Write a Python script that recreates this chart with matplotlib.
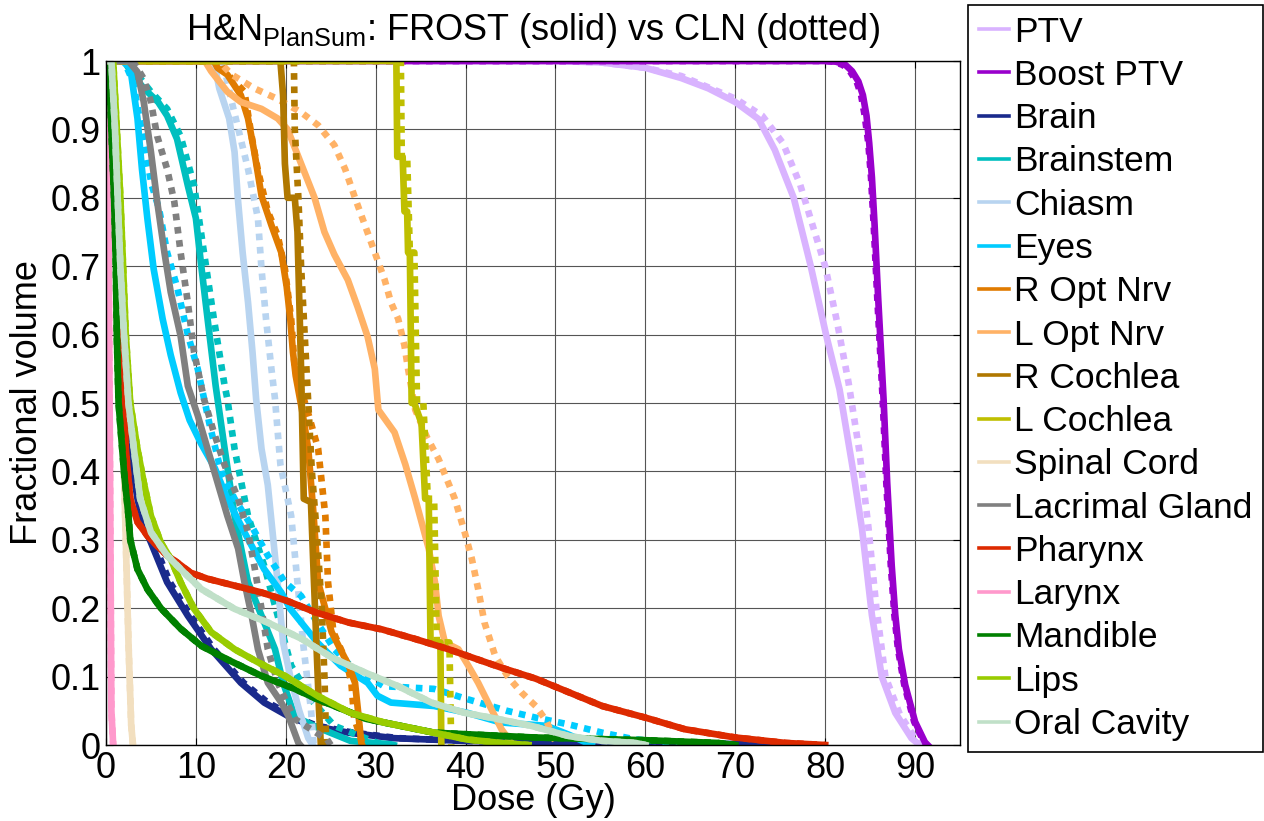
import matplotlib
matplotlib.use('Agg')
import matplotlib.pyplot as plt
from matplotlib.lines import Line2D

plt.rcParams['font.family'] = ['Liberation Sans', 'DejaVu Sans']
plt.rcParams['mathtext.fontset'] = 'custom'
plt.rcParams['mathtext.rm'] = 'Liberation Sans'
plt.rcParams['mathtext.it'] = 'Liberation Sans'

# structure names and colours (legend order)
names = ['PTV', 'Boost PTV', 'Brain', 'Brainstem', 'Chiasm', 'Eyes', 'R Opt Nrv',
         'L Opt Nrv', 'R Cochlea', 'L Cochlea', 'Spinal Cord', 'Lacrimal Gland',
         'Pharynx', 'Larynx', 'Mandible', 'Lips', 'Oral Cavity']
colors = ['#D9B3FF', '#9900CC', '#1A2A8C', '#00BFBF', '#B8D4F0', '#00CCFF', '#E07B00',
          '#FFB266', '#B07800', '#BFBF00', '#F2DFBF', '#808080',
          '#DD2A00', '#FF99CC', '#008000', '#99CC00', '#C0E0C8']

# DVH points (dose Gy, fractional volume); frost = solid, cln = dotted
ptv_frost = [(0, 1), (50, 1), (55, 0.998), (60, 0.99), (64, 0.975), (67, 0.96), (70, 0.94),
             (72.6, 0.915), (74.4, 0.87), (76.5, 0.8), (78.4, 0.7), (80.1, 0.6), (81.6, 0.52),
             (83, 0.41), (84.1, 0.316), (85.2, 0.19), (86.3, 0.1), (87.8, 0.047), (89.6, 0.01), (90.5, 0)]
ptv_cln = [(0, 1), (50, 1), (55, 0.998), (60, 0.99), (64, 0.978), (70, 0.945), (73, 0.92),
           (75.3, 0.88), (77.2, 0.82), (78.6, 0.76), (80, 0.7), (81.3, 0.62), (82.6, 0.53),
           (83.8, 0.43), (84.8, 0.32), (85.7, 0.2), (86.7, 0.1), (88.3, 0.045), (90, 0.01), (91, 0)]
boost_frost = [(0, 1), (80, 1), (81.2, 0.999), (82.2, 0.995), (83, 0.985), (83.7, 0.97),
               (84.2, 0.95), (84.6, 0.92), (84.9, 0.88), (85.2, 0.83), (85.5, 0.76),
               (85.9, 0.653), (86.5, 0.505), (86.9, 0.384), (87.4, 0.263), (87.8, 0.19),
               (88.2, 0.14), (88.9, 0.088), (90, 0.034), (91.1, 0.004), (91.4, 0)]
boost_cln = [(0, 1), (80, 1), (81, 0.999), (82, 0.994), (82.8, 0.984), (83.5, 0.97),
             (84, 0.95), (84.4, 0.92), (84.8, 0.88), (85.1, 0.83), (85.4, 0.76),
             (85.8, 0.653), (86.4, 0.505), (86.8, 0.384), (87.3, 0.263), (87.7, 0.19),
             (88.1, 0.14), (88.8, 0.088), (89.9, 0.034), (91, 0.004), (91.3, 0)]
brain_frost = [(0, 1), (0.5, 1), (0.9, 0.9), (1.2, 0.8), (1.5, 0.7), (1.8, 0.6), (2.3, 0.5),
               (2.8, 0.42), (3.5, 0.36), (4.2, 0.32), (5, 0.296), (6.8, 0.238), (9.1, 0.189),
               (11.7, 0.14), (15, 0.091), (17.6, 0.062), (20.3, 0.042), (23, 0.028), (27, 0.018),
               (32, 0.01), (40, 0.006), (55, 0.003), (75, 0.001), (78, 0)]
brain_cln = [(0, 1), (0.5, 1), (0.9, 0.9), (1.2, 0.8), (1.5, 0.7), (1.9, 0.6), (2.4, 0.5),
             (3, 0.42), (3.7, 0.36), (4.5, 0.32), (5.3, 0.296), (7.1, 0.238), (9.4, 0.189),
             (12, 0.14), (15.3, 0.091), (18, 0.062), (20.8, 0.042), (23.5, 0.028), (27.5, 0.018),
             (32.5, 0.01), (40, 0.006), (55, 0.003), (75, 0.001), (78, 0)]
brainstem_frost = [(0, 1), (2, 1), (3, 0.98), (4.2, 0.96), (5.8, 0.94), (6.8, 0.92), (7.9, 0.886),
                   (9.1, 0.818), (10, 0.77), (10.6, 0.7), (11.3, 0.623), (12.2, 0.525),
                   (13.2, 0.433), (14.3, 0.335), (15.8, 0.238), (17.3, 0.189), (18.8, 0.14),
                   (19.7, 0.091), (21, 0.042), (23.1, 0.028), (27.2, 0.006), (31.7, 0.001), (32, 0)]
brainstem_cln = [(0, 1), (2.5, 1), (3.5, 0.98), (5, 0.955), (6.8, 0.93), (8.3, 0.89), (9.8, 0.818),
                 (10.9, 0.72), (12, 0.623), (13.2, 0.525), (13.5, 0.506), (14.3, 0.433),
                 (15.8, 0.335), (17.6, 0.262), (19.1, 0.189), (20.6, 0.116), (23.1, 0.062),
                 (25.4, 0.028), (30.2, 0.003), (31, 0)]
chiasm_frost = [(0, 1), (12, 1), (12.6, 0.96), (13.7, 0.916), (14.3, 0.867), (14.7, 0.794),
                (15.2, 0.72), (15.8, 0.647), (16.3, 0.574), (16.7, 0.506), (17.3, 0.433),
                (18, 0.38), (19, 0.25), (19.7, 0.15), (20.5, 0.1), (21.5, 0.05), (22.5, 0.01), (23, 0)]
chiasm_cln = [(0, 1), (13, 1), (13.9, 0.945), (15.8, 0.842), (16.9, 0.77), (17.3, 0.696),
              (17.8, 0.623), (18.4, 0.55), (18.8, 0.506), (19.4, 0.41), (20.6, 0.335),
              (21.3, 0.238), (22, 0.14), (22.8, 0.052), (23.1, 0)]
eyes_frost = [(0, 1), (1.8, 1), (2.7, 0.99), (3.5, 0.916), (4, 0.842), (4.6, 0.77), (5.3, 0.696),
              (6.3, 0.623), (7.2, 0.57), (8.3, 0.515), (9.3, 0.475), (10.6, 0.44), (12.1, 0.405),
              (13.5, 0.36), (15.4, 0.311), (17.6, 0.257), (19.5, 0.223), (20.5, 0.199),
              (23.5, 0.15), (26.1, 0.116), (29.1, 0.091), (30.2, 0.072), (31.7, 0.062),
              (36.5, 0.057), (40.2, 0.047), (43.9, 0.033), (49, 0.028), (51.5, 0.015), (54, 0)]
eyes_cln = [(0, 1), (2, 1), (3, 0.97), (4.6, 0.852), (5.1, 0.818), (5.9, 0.784), (6.8, 0.72),
            (7.9, 0.67), (9.1, 0.6), (10.2, 0.55), (11.5, 0.47), (12.8, 0.4), (14.3, 0.36),
            (16.2, 0.32), (18, 0.277), (19.9, 0.238), (21.7, 0.218), (23.5, 0.179),
            (25.4, 0.14), (27.2, 0.116), (30.9, 0.086), (36.5, 0.082), (40.2, 0.067),
            (44.6, 0.05), (47.8, 0.04), (51.5, 0.03), (55.2, 0.018), (58.9, 0.008),
            (64.4, 0.003), (65, 0)]
roptnrv_frost = [(0, 1), (12, 1), (12.4, 0.99), (13.5, 0.98), (15, 0.95), (15.8, 0.916),
                 (16.5, 0.867), (17.3, 0.803), (18.4, 0.76), (19.5, 0.72), (20.1, 0.67),
                 (20.5, 0.623), (20.8, 0.574), (21.1, 0.54), (21.8, 0.49), (22.5, 0.433),
                 (23.1, 0.335), (23.6, 0.238), (25.1, 0.165), (27, 0.116), (27.7, 0.091),
                 (28.1, 0.042), (28.4, 0.003), (28.5, 0)]
roptnrv_cln = [(0, 1), (12.8, 1), (13.2, 0.985), (15.4, 0.955), (16.2, 0.89), (16.9, 0.84),
               (18, 0.78), (19.1, 0.745), (19.9, 0.696), (20.6, 0.623), (21, 0.55),
               (22.6, 0.48), (23.6, 0.433), (24.4, 0.335), (24.7, 0.238), (25.3, 0.165),
               (26.8, 0.12), (27.3, 0.09), (27.6, 0.04), (28.5, 0.003), (28.7, 0)]
loptnrv_frost = [(0, 1), (11, 1), (11.7, 0.985), (13.5, 0.955), (15, 0.94), (17.3, 0.93),
                 (19.1, 0.916), (20.2, 0.9), (21.7, 0.85), (23.2, 0.8), (24.3, 0.75),
                 (25.4, 0.717), (26.9, 0.68), (28, 0.64), (29.1, 0.597), (29.9, 0.55),
                 (30.3, 0.49), (32.1, 0.457), (33.3, 0.41), (34.4, 0.36), (35.1, 0.326),
                 (35.9, 0.287), (36.6, 0.238), (37, 0.189), (37.7, 0.15), (39.2, 0.14),
                 (40.3, 0.116), (41.4, 0.091), (42.5, 0.062), (44, 0.023), (45.1, 0.003), (45.3, 0)]
loptnrv_cln = [(0, 1), (12.5, 1), (14, 0.98), (16.5, 0.96), (19, 0.945), (21.7, 0.925),
               (23.6, 0.906), (25.4, 0.877), (26.6, 0.842), (27.7, 0.8), (28.8, 0.76),
               (29.9, 0.72), (31, 0.68), (31.7, 0.647), (32.5, 0.623), (33.2, 0.584),
               (33.6, 0.55), (34.4, 0.49), (35.7, 0.45), (37, 0.418), (38.8, 0.36),
               (39.9, 0.311), (40.7, 0.272), (41.4, 0.228), (42.1, 0.179), (43.3, 0.13),
               (44.7, 0.1), (46.2, 0.077), (47.8, 0.057), (49, 0.035), (49.8, 0.01), (50.2, 0)]
rcochlea_frost = [(0, 1), (19.4, 1), (19.7, 0.95), (19.9, 0.85), (20.2, 0.8), (21, 0.8),
                  (21.3, 0.75), (21.5, 0.65), (21.7, 0.55), (22, 0.36), (22.8, 0.355),
                  (23.1, 0.25), (23.4, 0.15), (23.7, 0.05), (23.9, 0)]
rcochlea_cln = [(0, 1), (20.9, 1), (21, 0.9), (21.4, 0.8), (21.7, 0.7), (22.1, 0.6),
                (22.5, 0.5), (22.9, 0.4), (23.5, 0.3), (24, 0.2), (24.3, 0.1), (24.5, 0)]
lcochlea_frost = [(0, 1), (32.3, 1), (32.4, 0.86), (33, 0.86), (33.2, 0.78), (33.5, 0.78),
                  (33.6, 0.72), (33.8, 0.72), (34, 0.5), (34.3, 0.5), (35.1, 0.47),
                  (35.5, 0.36), (35.9, 0.36), (36.1, 0.15), (37.2, 0.15), (37.3, 0)]
lcochlea_cln = [(0, 1), (32.8, 1), (32.9, 0.86), (33.5, 0.86), (33.8, 0.72), (34.3, 0.72),
                (34.6, 0.5), (35.3, 0.5), (35.8, 0.36), (36.5, 0.36), (36.8, 0.15),
                (38.2, 0.15), (38.4, 0)]
spinal_frost = [(0, 1), (0.3, 1), (0.8, 0.9), (1.3, 0.7), (1.8, 0.5), (2.2, 0.3),
                (2.5, 0.15), (2.8, 0.03), (3, 0)]
spinal_cln = [(0, 1), (0.3, 1), (0.8, 0.9), (1.3, 0.7), (1.8, 0.5), (2.2, 0.3),
              (2.5, 0.15), (2.8, 0.03), (3, 0)]
lacrimal_frost = [(0, 1), (2.5, 1), (3.5, 0.984), (4.2, 0.94), (5, 0.867), (5.7, 0.794),
                  (6.5, 0.72), (7.2, 0.662), (8.3, 0.598), (9.1, 0.525), (10.2, 0.482),
                  (11.3, 0.433), (12.4, 0.384), (13.5, 0.335), (14.7, 0.287), (15.4, 0.238),
                  (16.2, 0.189), (16.9, 0.14), (18, 0.091), (19.5, 0.062), (20.3, 0.042),
                  (21.4, 0.003), (21.6, 0)]
lacrimal_cln = [(0, 1), (3, 1), (4.2, 0.974), (5, 0.94), (5.7, 0.89), (6.8, 0.842),
                (7.6, 0.794), (8.3, 0.72), (9.1, 0.647), (9.8, 0.574), (10.6, 0.525),
                (10.9, 0.506), (12, 0.457), (13.2, 0.409), (14.7, 0.36), (15.8, 0.311),
                (16.5, 0.262), (17.3, 0.199), (18, 0.14), (19.1, 0.091), (20.3, 0.057),
                (21, 0.038), (24.6, 0.008), (25, 0)]
pharynx_frost = [(0, 1), (0.5, 1), (0.8, 0.9), (1.1, 0.8), (1.4, 0.7), (1.7, 0.6), (2, 0.53),
                 (2.2, 0.433), (2.7, 0.36), (3.5, 0.326), (4.6, 0.306), (5.7, 0.291),
                 (6.8, 0.277), (7.9, 0.267), (9.4, 0.252), (11.3, 0.243), (14.3, 0.233),
                 (17.3, 0.223), (20.3, 0.21), (23.3, 0.194), (27, 0.179), (30.7, 0.169),
                 (34.4, 0.155), (38.1, 0.14), (41.8, 0.123), (44, 0.113), (47.8, 0.097),
                 (51.5, 0.077), (55.2, 0.057), (60, 0.04), (64.4, 0.023), (70, 0.011),
                 (75.6, 0.003), (80, 0)]
pharynx_cln = [(0, 1), (0.5, 1), (0.8, 0.9), (1.1, 0.8), (1.4, 0.7), (1.7, 0.6), (2, 0.53),
               (2.2, 0.433), (2.7, 0.36), (3.5, 0.326), (4.6, 0.306), (5.7, 0.291),
               (6.8, 0.277), (7.9, 0.267), (9.4, 0.252), (11.3, 0.243), (14.3, 0.233),
               (17.3, 0.223), (20.3, 0.21), (23.3, 0.194), (27, 0.179), (30.7, 0.169),
               (34.4, 0.155), (38.1, 0.14), (41.8, 0.123), (44, 0.113), (47.8, 0.097),
               (51.5, 0.077), (55.2, 0.057), (60, 0.04), (64.4, 0.023), (70, 0.011),
               (75.6, 0.003), (80, 0)]
larynx_frost = [(0, 1), (0.2, 0.9), (0.4, 0.5), (0.6, 0.05), (0.8, 0)]
larynx_cln = [(0, 1), (0.2, 0.9), (0.4, 0.5), (0.6, 0.05), (0.8, 0)]
mandible_frost = [(0, 1), (0.3, 1), (0.6, 0.9), (0.9, 0.8), (1.1, 0.7), (1.2, 0.6), (1.4, 0.5),
                  (2, 0.4), (2.5, 0.335), (2.7, 0.3), (3.5, 0.257), (4.6, 0.228), (6.1, 0.2),
                  (8.3, 0.17), (10.6, 0.145), (13.5, 0.125), (17.3, 0.101), (21, 0.082),
                  (23.5, 0.067), (29, 0.038), (36.5, 0.018), (47.6, 0.011), (60, 0.007),
                  (68, 0.003), (70, 0)]
mandible_cln = [(0, 1), (0.3, 1), (0.6, 0.9), (0.9, 0.8), (1.1, 0.7), (1.2, 0.6), (1.4, 0.5),
                (2, 0.4), (2.5, 0.335), (2.7, 0.3), (3.5, 0.257), (4.6, 0.228), (6.1, 0.2),
                (8.3, 0.17), (10.6, 0.145), (13.5, 0.125), (17.3, 0.101), (21, 0.082),
                (23.5, 0.067), (29, 0.038), (36.5, 0.018), (47.6, 0.011), (60, 0.007),
                (68, 0.003), (70, 0)]
lips_frost = [(0, 1), (0.8, 1), (1.2, 0.9), (1.6, 0.8), (1.9, 0.7), (2.2, 0.6), (2.7, 0.5),
              (3.5, 0.433), (4.2, 0.384), (5, 0.335), (6.1, 0.296), (7.2, 0.272), (8.3, 0.238),
              (9.8, 0.199), (11.7, 0.165), (14.3, 0.14), (16.9, 0.121), (19.9, 0.101),
              (23.5, 0.072), (27.2, 0.047), (30.9, 0.033), (36.5, 0.018), (40.2, 0.008),
              (43.9, 0.003), (47, 0)]
lips_cln = [(0, 1), (0.8, 1), (1.2, 0.9), (1.6, 0.8), (1.9, 0.7), (2.2, 0.6), (2.7, 0.5),
            (3.5, 0.433), (4.2, 0.384), (5, 0.335), (6.1, 0.296), (7.2, 0.272), (8.3, 0.238),
            (9.8, 0.199), (11.7, 0.165), (14.3, 0.14), (16.9, 0.121), (19.9, 0.101),
            (23.5, 0.072), (27.2, 0.047), (30.9, 0.033), (36.5, 0.018), (40.2, 0.008),
            (43.9, 0.003), (47, 0)]
oral_frost = [(0, 1), (0.6, 1), (1, 0.9), (1.3, 0.8), (1.6, 0.7), (2, 0.6), (2.5, 0.5),
              (3.1, 0.433), (3.8, 0.36), (5, 0.311), (6.8, 0.277), (8.7, 0.252), (10.6, 0.228),
              (14.3, 0.199), (18, 0.179), (21.8, 0.155), (25.1, 0.128), (28.8, 0.106),
              (32.5, 0.086), (36.2, 0.062), (39.9, 0.047), (43.6, 0.038), (47.3, 0.028),
              (51.5, 0.013), (55.2, 0.006), (58.9, 0.003), (60, 0)]
oral_cln = [(0, 1), (0.6, 1), (1, 0.9), (1.3, 0.8), (1.6, 0.7), (2, 0.6), (2.5, 0.5),
            (3.1, 0.433), (3.8, 0.36), (5, 0.311), (6.8, 0.277), (8.7, 0.252), (10.6, 0.228),
            (14.3, 0.199), (18, 0.179), (21.8, 0.155), (25.1, 0.128), (28.8, 0.106),
            (32.5, 0.086), (36.2, 0.062), (39.9, 0.047), (43.6, 0.038), (47.3, 0.028),
            (51.5, 0.013), (55.2, 0.006), (58.9, 0.003), (60, 0)]

frost = [ptv_frost, boost_frost, brain_frost, brainstem_frost, chiasm_frost, eyes_frost,
         roptnrv_frost, loptnrv_frost, rcochlea_frost, lcochlea_frost, spinal_frost,
         lacrimal_frost, pharynx_frost, larynx_frost, mandible_frost, lips_frost, oral_frost]
cln = [ptv_cln, boost_cln, brain_cln, brainstem_cln, chiasm_cln, eyes_cln,
       roptnrv_cln, loptnrv_cln, rcochlea_cln, lcochlea_cln, spinal_cln,
       lacrimal_cln, pharynx_cln, larynx_cln, mandible_cln, lips_cln, oral_cln]

fig = plt.figure(figsize=(12.64, 8.21), dpi=100)
ax = fig.add_axes([106 / 1264, 76 / 821, 854 / 1264, 684 / 821])

for c, s, d in zip(colors, frost, cln):
    ax.plot([p[0] for p in s], [p[1] for p in s], color=c, lw=4.8)
    ax.plot([p[0] for p in d], [p[1] for p in d], color=c, lw=4.8, linestyle=(0, (1, 1)))

ax.set_xlim(0, 95)
ax.set_ylim(0, 1)
ax.set_xticks(range(0, 91, 10))
ax.set_yticks([i / 10 for i in range(11)])
ax.set_yticklabels(['0'] + ['0.%d' % i for i in range(1, 10)] + ['1'])
ax.grid(True, color='#555555', lw=0.8)
ax.set_axisbelow(True)
ax.tick_params(direction='in', top=True, right=True, labelsize=26, pad=4, length=5)
for sp in ax.spines.values():
    sp.set_linewidth(1.0)

ax.set_title(r'H&N$_{\mathrm{PlanSum}}$: FROST (solid) vs CLN (dotted)', fontsize=26, pad=15)
ax.set_xlabel('Dose (Gy)', fontsize=26, labelpad=-2)
ax.set_ylabel('Fractional volume', fontsize=26, labelpad=4)

handles = [Line2D([], [], color=c, lw=2.6) for c in colors]
leg = fig.legend(handles, names, loc='upper left', bbox_to_anchor=(968 / 1264, 816 / 821),
                 fontsize=25.5, frameon=True, fancybox=False, framealpha=1,
                 edgecolor='black', handlelength=0.85, handletextpad=0.15,
                 labelspacing=0.29, borderpad=0.3, borderaxespad=0)
leg.get_frame().set_linewidth(1.2)

fig.savefig('out.png', dpi=100)
